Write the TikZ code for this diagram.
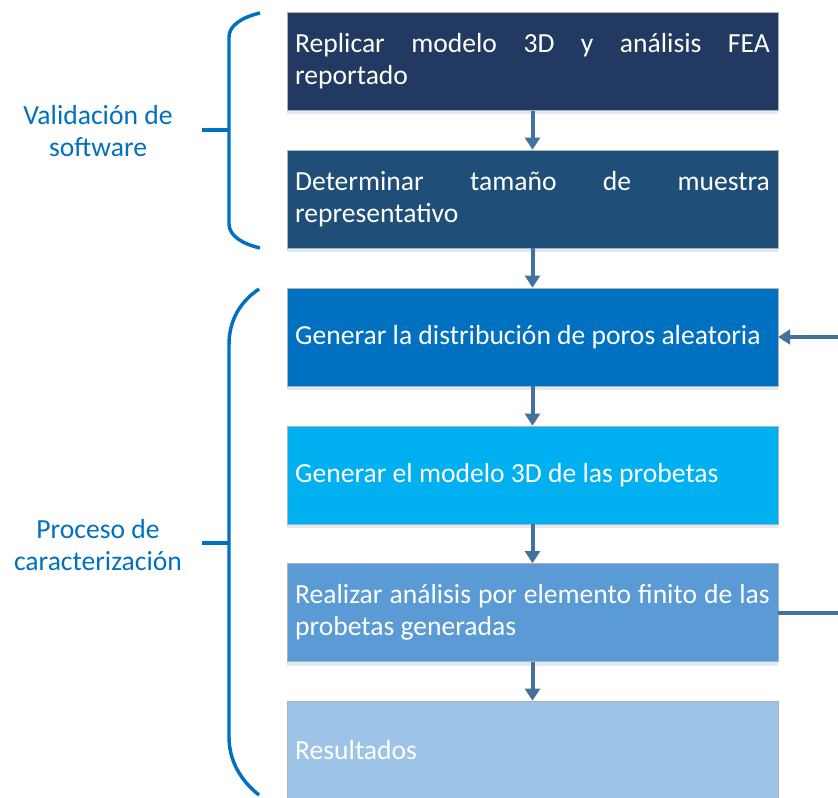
\documentclass[tikz,border=0pt]{standalone}
\usepackage{fontspec}
\setmainfont{Carlito}
\usetikzlibrary{arrows.meta,shadows}
\definecolor{azulnoche}{HTML}{223962}
\definecolor{azulmarino}{HTML}{1F4E79}
\definecolor{azulfuerte}{HTML}{0070C0}
\definecolor{azulcielo}{HTML}{00B0F0}
\definecolor{azulmedio}{HTML}{5B9BD5}
\definecolor{azulclaro}{HTML}{9DC3E6}
\definecolor{azulflecha}{HTML}{41719C}
\definecolor{azulsombra}{HTML}{DCE9F6}
\newcommand{\singuiones}{\hyphenpenalty=10000 \tolerance=10000 }
\newcommand{\textopaso}[1]{\parbox{356pt}{#1}}
\tikzset{
    caja/.style={draw=black!30, line width=0.4pt, text=white, inner xsep=6pt,
        minimum width=368pt, minimum height=73.5pt,
        font={\fontsize{20.7pt}{24pt}\selectfont\singuiones},
        drop shadow={shadow xshift=0pt, shadow yshift=-3pt, fill=azulsombra, opacity=1}},
    flecha/.style={draw=azulflecha, line width=3pt, -{Triangle[width=11pt,length=9pt]}},
    llave/.style={draw=azulfuerte, line width=2.6pt},
    etiqueta/.style={text=azulfuerte, align=center, font={\fontsize{20.7pt}{24pt}\selectfont}},
}

\begin{document}
\begin{tikzpicture}[x=0.75pt,y=-0.75pt]
    \useasboundingbox (0,0) rectangle (838,798);

    % Pasos del proceso.
    \node[caja, fill=azulnoche] (replicar) at (532.5,61.5) {\textopaso{Replicar modelo 3D y análisis FEA\linebreak reportado}};
    \node[caja, fill=azulmarino] (tamano) at (532.5,199) {\textopaso{Determinar tamaño de muestra representativo}};
    \node[caja, fill=azulfuerte] (distribucion) at (532.5,337) {\textopaso{Generar la distribución de poros aleatoria}};
    \node[caja, fill=azulcielo] (modelo) at (532.5,475) {\textopaso{Generar el modelo 3D de las probetas}};
    \node[caja, fill=azulmedio] (fea) at (532.5,612.5) {\textopaso{Realizar análisis por elemento finito de las probetas generadas}};
    \node[caja, fill=azulclaro] (resultados) at (532.5,750) {\textopaso{Resultados}};

    \draw[flecha] (replicar) -- (tamano);
    \draw[flecha] (tamano) -- (distribucion);
    \draw[flecha] (distribucion) -- (modelo);
    \draw[flecha] (modelo) -- (fea);
    \draw[flecha] (fea) -- (resultados);

    % Retorno por el borde derecho.
    \coordinate (bordeA) at (840,337);
    \coordinate (bordeB) at (840,612.5);
    \draw[flecha, -] (fea.east) -- (bordeB);
    \draw[flecha] (bordeA) -- (distribucion.east);

    % Llaves y etiquetas.
    \node[etiqueta] (validacion) at (98,131) {Validación de\\software};
    \node[etiqueta] (proceso) at (98,545) {Proceso de\\caracterización};
    \draw[llave] (260,13) .. controls (243,17) and (229,25) .. (229,37) -- (229,224) .. controls (229,236) and (243,244) .. (260,248);
    \draw[llave] (202,130) -- (229,130);
    \draw[llave] (259,289) .. controls (240,302) and (229,320) .. (229,345) -- (229,737) .. controls (229,760) and (240,780) .. (259,795);
    \draw[llave] (202,543) -- (229,543);
\end{tikzpicture}
\end{document}
